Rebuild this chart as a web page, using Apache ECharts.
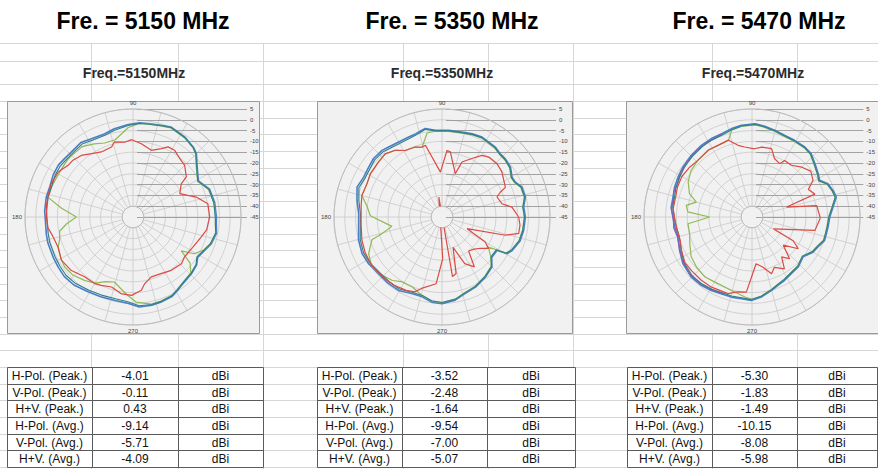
<!DOCTYPE html>
<html><head><meta charset="utf-8">
<script src="https://cdn.jsdelivr.net/npm/echarts@6/dist/echarts.min.js"></script>
<style>html,body{margin:0;padding:0;background:#fff;}#c{width:878px;height:469px;}</style>
</head><body><div id="c"></div>
<script>
// ---------- text / tick data ----------
const freqTitles = ['Fre. = 5150 MHz', 'Fre. = 5350 MHz', 'Fre. = 5470 MHz'];
const chartTitles = ['Freq.=5150MHz', 'Freq.=5350MHz', 'Freq.=5470MHz'];
const angleLabels = [90, 180, 270];
const radialMin = -45, radialMax = 5, radialStep = 5;
const rowLabels = ['H-Pol. (Peak.)', 'V-Pol. (Peak.)', 'H+V. (Peak.)', 'H-Pol. (Avg.)', 'V-Pol. (Avg.)', 'H+V. (Avg.)'];
const values5150 = ['-4.01', '-0.11', '0.43', '-9.14', '-5.71', '-4.09'];
const values5350 = ['-3.52', '-2.48', '-1.64', '-9.54', '-7.00', '-5.07'];
const values5470 = ['-5.30', '-1.83', '-1.49', '-10.15', '-8.08', '-5.98'];
const unitLabel = 'dBi';

// ---------- pattern data: [angle (deg), gain (dB)] ----------
const blue5150 = [[0,-6.4],[10,-6.6],[20,-7.3],[29,-10.4],[38,-7.3],[45,-3.5],[49,-2.3],[57,-0.9],[67,0.2],[73,-0.6],[81,-1.2],[86,-1.3],[93,-2.1],[102,-3.2],[109,-4.3],[118,-4.0],[125,-2.9],[132,-3.5],[140,-3.3],[145,-2.9],[152,-3.2],[160,-4.0],[167,-3.8],[176,-4.0],[182,-4.4],[191,-4.1],[197,-3.8],[207,-3.6],[214,-3.3],[221,-2.9],[229,-3.3],[239,-4.6],[248,-5.2],[258,-5.5],[267,-4.9],[274,-3.2],[282,-3.2],[288,-3.5],[296,-4.0],[301,-5.2],[308,-6.6],[316,-7.3],[323,-8.1],[328,-9.7],[335,-8.4],[341,-6.7],[349,-5.6],[355,-6.3],[360,-6.4]];
const teal5150 = [[0,-6.9],[10,-7.0],[20,-7.6],[29,-10.7],[38,-7.6],[45,-3.8],[49,-2.5],[57,-1.1],[67,0.0],[73,-0.8],[81,-1.4],[86,-1.6],[93,-2.6],[102,-3.9],[109,-5.0],[118,-4.8],[125,-3.8],[132,-4.3],[140,-4.2],[145,-3.9],[152,-4.1],[160,-4.8],[167,-4.6],[176,-4.9],[182,-5.2],[191,-5.0],[197,-4.7],[207,-4.5],[214,-4.2],[221,-3.9],[229,-4.3],[239,-5.4],[248,-6.0],[258,-6.3],[267,-5.6],[274,-3.8],[282,-3.6],[288,-3.8],[296,-4.3],[301,-5.5],[308,-6.9],[316,-7.6],[323,-8.5],[328,-10.1],[335,-8.8],[341,-7.1],[349,-6.0],[355,-6.7],[360,-6.9]];
const green5150 = [[0,-6.8],[10,-7.0],[20,-7.8],[29,-10.8],[38,-7.8],[45,-4.0],[49,-2.6],[57,-1.2],[67,-0.2],[73,-0.9],[81,-1.5],[86,-1.6],[93,-3.5],[103,-8.3],[111,-8.3],[118,-6.7],[126,-4.7],[138,-4.6],[148,-5.2],[160,-4.7],[167,-4.6],[173,-11.7],[180,-18.8],[186,-14.0],[191,-10.4],[197,-9.5],[202,-7.6],[210,-6.5],[216,-5.8],[224,-6.3],[233,-8.1],[240,-9.7],[247,-12.5],[254,-13.7],[260,-11.5],[266,-8.7],[272,-5.6],[282,-3.8],[288,-4.0],[296,-4.5],[301,-5.6],[308,-7.0],[316,-7.8],[321,-11.0],[325,-17.7],[329,-12.0],[335,-8.8],[341,-7.1],[349,-6.0],[355,-6.7],[360,-6.8]];
const red5150 = [[0,-9.5],[10,-9.8],[17.5,-14.3],[21.5,-17.7],[26.6,-20.8],[34.6,-17.8],[36.9,-14.1],[45,-11.2],[51,-10.4],[58,-8.6],[63.4,-8.7],[67.5,-10.7],[74.6,-13.0],[83.5,-10.9],[91,-9.2],[96,-10.1],[104,-9.2],[107,-11.1],[116,-11.5],[123,-10.0],[130,-7.8],[137,-6.7],[141.5,-6.6],[149,-4.6],[158,-4.1],[166,-4.4],[173,-4.6],[180,-4.9],[187,-5.3],[194,-6.9],[202,-7.6],[211,-6.3],[221,-7.2],[231,-9.4],[240,-9.4],[245,-10.1],[253,-11.1],[261,-9.1],[269,-8.7],[276.5,-10.9],[280,-13.7],[287,-16.0],[297,-15.7],[305.7,-14.6],[316,-13.8],[322,-14.8],[333,-14.0],[344,-12.0],[350,-10.4],[355,-10.1],[360,-9.5]];

const blue5350 = [[0,-6.4],[7,-6.9],[13.5,-5.3],[20.6,-5.5],[25.5,-7.4],[29.7,-7.7],[36,-5.8],[42.6,-5.2],[47.4,-5.2],[52.7,-4.3],[58,-4.1],[63.4,-3.6],[70,-4.0],[76.8,-4.6],[85.6,-4.7],[94.4,-4.7],[100.7,-3.3],[103,-3.8],[107.7,-4.6],[112.6,-4.9],[120,-4.9],[127,-4.3],[132,-3.5],[139.5,-3.3],[146,-4.0],[153,-4.3],[160.6,-3.3],[169,-4.9],[177.7,-6.4],[187,-6.1],[195.6,-4.9],[204.6,-4.3],[212.5,-4.7],[222,-5.6],[231,-5.5],[239.4,-5.5],[249,-6.9],[256,-6.9],[263,-5.3],[270,-4.9],[279,-6.0],[287,-8.0],[295.5,-9.0],[306,-10.7],[315,-12.3],[321,-15.4],[328.8,-15.2],[330.6,-10.4],[334.5,-9.0],[343,-7.2],[350.7,-6.7],[360,-6.4]];
const teal5350 = [[0,-6.8],[7,-7.3],[13.5,-5.7],[20.6,-5.9],[25.5,-7.7],[29.7,-8.0],[36,-6.1],[42.6,-5.5],[47.4,-5.5],[52.7,-4.6],[58,-4.4],[63.4,-3.9],[70,-4.3],[76.8,-4.9],[85.6,-5.0],[94.4,-5.0],[100.7,-3.7],[103,-4.3],[107.7,-5.2],[112.6,-5.6],[120,-5.7],[127,-5.1],[132,-4.3],[139.5,-4.1],[146,-4.8],[153,-5.1],[160.6,-4.2],[169,-5.8],[177.7,-7.2],[187,-6.9],[195.6,-5.7],[204.6,-5.1],[212.5,-5.5],[222,-6.4],[231,-6.3],[239.4,-6.3],[249,-7.6],[256,-7.5],[263,-5.9],[270,-5.4],[279,-6.4],[287,-8.4],[295.5,-9.3],[306,-11.0],[315,-12.6],[321,-15.8],[328.8,-15.6],[330.6,-10.8],[334.5,-9.4],[343,-7.6],[350.7,-7.1],[360,-6.8]];
const green5350 = [[0,-6.9],[7,-7.3],[13.5,-5.8],[20.6,-6.0],[25.5,-7.9],[29.7,-8.2],[36,-6.3],[42.6,-5.7],[47.4,-5.7],[52.7,-4.8],[58,-4.6],[63.4,-4.1],[70,-4.5],[76.8,-5.1],[85.6,-5.2],[94.4,-5.2],[100,-5.5],[106,-11.4],[111,-10.3],[119,-9.8],[125,-7.3],[132,-5.7],[139,-6.1],[149,-6.3],[156,-7.0],[165,-6.6],[172,-10.0],[179,-11.8],[190.6,-21.4],[195.5,-16.1],[198,-10.9],[206.6,-7.0],[215.5,-5.2],[224,-6.3],[232,-7.7],[238,-9.7],[247,-9.8],[255.7,-7.5],[263,-5.8],[270,-5.4],[279,-6.5],[287,-8.5],[295.5,-9.5],[306,-11.2],[315,-12.8],[321,-16.0],[327,-19.4],[330.6,-11.0],[334.5,-9.5],[343,-7.7],[350.7,-7.2],[360,-6.9]];
const red5350 = [[0,-9.5],[8,-12.3],[12.5,-16.6],[20,-17.9],[23,-15.7],[25,-12.6],[37,-10.3],[44,-9.5],[52,-9.8],[57,-11.0],[63,-14.6],[70,-17.9],[73,-24.0],[82.7,-14.6],[85.7,-14.1],[92,-24.2],[103,-10.9],[106,-11.4],[111,-10.3],[119,-9.8],[125,-7.3],[132,-5.7],[139,-6.1],[149,-6.3],[156,-7.0],[165,-6.6],[172,-7.2],[185,-7.4],[196,-6.4],[205,-5.8],[215,-5.4],[226,-6.0],[235,-6.4],[244,-7.2],[250,-8.1],[254,-10.6],[265,-14.0],[271,-25.7],[279,-54.3],[280,-17.0],[284,-18.0],[290,-30.0],[296,-21.0],[303,-17.5],[308,-25.0],[315,-24.0],[321,-22.0],[326,-19.0],[330,-22.0],[335,-32.2],[344,-14.4],[348,-8.7],[354,-8.7],[360,-9.5]];

const blue5470 = [[0,-9.0],[7,-7.2],[13.3,-4.9],[18,-5.5],[23.7,-6.6],[28.5,-9.4],[33,-8.4],[40,-6.9],[47,-4.9],[53,-4.4],[61,-4.4],[68,-4.3],[75,-3.5],[82,-2.6],[88,-1.8],[96.6,-2.3],[103,-3.0],[110,-4.0],[117.4,-4.1],[125,-4.4],[134.5,-4.9],[144,-5.5],[151.6,-6.1],[159,-6.6],[166,-7.3],[173,-7.3],[180,-8.4],[187,-8.9],[195,-9.5],[204.7,-8.1],[214,-6.4],[224.7,-5.5],[233.4,-5.6],[241,-6.1],[248,-6.7],[255.5,-6.7],[262.6,-6.9],[269.5,-6.4],[276.7,-7.7],[285,-9.8],[291,-11.2],[297,-12.0],[305,-13.1],[313,-13.5],[322,-15.0],[330,-12.4],[335.6,-11.5],[342,-9.7],[347,-9.7],[352.5,-9.5],[360,-9.0]];
const teal5470 = [[0,-9.4],[7,-7.6],[13.3,-5.4],[18,-5.9],[23.7,-7.0],[28.5,-9.8],[33,-8.8],[40,-7.3],[47,-5.2],[53,-4.7],[61,-4.7],[68,-4.6],[75,-3.8],[82,-2.9],[88,-2.1],[96.6,-2.6],[103,-3.5],[110,-4.6],[117.4,-4.8],[125,-5.1],[134.5,-5.6],[144,-6.2],[151.6,-6.8],[159,-7.3],[166,-8.0],[173,-8.0],[180,-9.1],[187,-9.6],[195,-10.2],[204.7,-8.8],[214,-7.1],[224.7,-6.2],[233.4,-6.3],[241,-6.8],[248,-7.3],[255.5,-7.2],[262.6,-7.3],[269.5,-6.8],[276.7,-8.1],[285,-10.2],[291,-11.6],[297,-12.4],[305,-13.5],[313,-13.9],[322,-15.4],[330,-12.8],[335.6,-11.9],[342,-10.1],[347,-10.1],[352.5,-9.9],[360,-9.4]];
const purple5470 = [[110,-4.3],[120,-4.6],[130,-5.0],[140,-5.6],[148,-6.0],[155,-7.2],[162,-6.9],[168,-7.8],[174,-7.4],[181,-8.6],[188,-8.4],[195,-9.3],[203,-8.5],[212,-7.0],[222,-5.9],[232,-6.0],[242,-6.6],[250,-7.0]];
const green5470 = [[0,-9.5],[7,-7.7],[13.3,-5.4],[18,-6.0],[23.7,-7.1],[28.5,-9.9],[33,-8.9],[40,-7.4],[47,-5.4],[53,-4.9],[61,-4.9],[68,-4.8],[75,-4.0],[82,-3.1],[88,-2.3],[96.6,-2.8],[103,-3.6],[107,-7.8],[115,-8.3],[123,-8.0],[134,-8.7],[142.4,-9.5],[151,-11.2],[159.5,-14.1],[165,-18.3],[170,-14.1],[175.5,-15.2],[180,-25.4],[186,-15.2],[195,-15.1],[203,-13.7],[213,-11.4],[222,-10.4],[232,-9.7],[243,-10.4],[254,-9.7],[265,-7.8],[270,-6.9],[276.7,-8.2],[285,-10.3],[291,-11.7],[297,-12.5],[305,-13.6],[313,-14.0],[322,-15.5],[330,-12.9],[335.6,-12.0],[342,-10.2],[347,-10.2],[352.5,-10.0],[360,-9.5]];
const red5470 = [[0,-13.5],[10,-14.6],[16,-28.3],[20,-14.0],[26,-16.0],[31,-12.0],[38,-10.5],[45,-12.4],[52.7,-14.9],[60,-14.8],[62.6,-17.2],[69,-16.0],[74,-12.1],[82,-12.3],[88,-13.4],[96,-12.4],[101,-11.2],[107,-7.8],[115,-8.3],[123,-8.0],[134,-8.7],[142,-8.0],[150,-7.5],[158,-7.8],[166,-8.5],[174,-8.3],[182,-9.2],[190,-9.8],[198,-10.0],[206,-8.8],[214,-7.5],[222,-7.6],[231,-7.5],[240,-7.5],[252.6,-7.8],[259,-9.7],[265.7,-10.1],[275,-23.3],[282,-21.3],[289,-17.2],[294,-19.5],[302,-16.7],[306.6,-22.0],[312,-19.0],[318,-25.5],[325.6,-19.0],[330,-23.0],[331,-33.7],[348,-15.2],[358.6,-13.5],[360,-13.5]];

// ---------- layout ----------
const CY = 217, R = 108, R0 = 10.8;
const panels = [
  {cx:133, box:[7,101,252,232], tx:143, sx:134, cols:[7,92,178,263], vals:values5150,
   series:[['blue',blue5150],['green',green5150],['teal',teal5150],['red',red5150]]},
  {cx:442, box:[317,101,255,232], tx:452, sx:442, cols:[317,402,487,575], vals:values5350,
   series:[['blue',blue5350],['green',green5350],['teal',teal5350],['red',red5350]]},
  {cx:752, box:[626,101,252,232], tx:759, sx:753, cols:[627,712,797,877], vals:values5470,
   series:[['blue',blue5470],['purple',purple5470],['green',green5470],['teal',teal5470],['red',red5470]]}
];
const colors = {blue:'#4a7fc6', teal:'#2f7f8a', green:'#8fba55', red:'#dc4a44', purple:'#8a60b2'};
const widths = {blue:1.6, teal:1.1, green:1.2, red:1.2, purple:1.2};
const sheetRows = [43,61,84,101,118,134,151,168,184,201,217,234,250,267,284,300,317,334,350,367,384,400,417,434,450,467];
const sheetCols = [91,178,263,403,488,573,712,797];
const ROW0 = 367, ROWH = 16.67;

const graphics = [];
sheetRows.forEach(y => graphics.push({type:'line', z:-20, silent:true, shape:{x1:0,y1:y+0.5,x2:878,y2:y+0.5}, style:{stroke:'#d6d6d6', lineWidth:1}}));
sheetCols.forEach(x => graphics.push({type:'line', z:-20, silent:true, shape:{x1:x+0.5,y1:43,x2:x+0.5,y2:469}, style:{stroke:'#d6d6d6', lineWidth:1}}));

const polar = [], angleAxis = [], radiusAxis = [], grid = [], xAxis = [], yAxis = [], series = [];
panels.forEach((p, i) => {
  const [bx, by, bw, bh] = p.box;
  graphics.push({type:'rect', z:-10, silent:true, shape:{x:bx+0.5, y:by+0.5, width:bw, height:bh}, style:{fill:'#f1f1f1', stroke:'#9a9a9a', lineWidth:1}});
  graphics.push({type:'text', z:5, silent:true, style:{x:p.tx, y:21, text:freqTitles[i], textAlign:'center', textVerticalAlign:'middle', font:'bold 23px "Liberation Sans", Arial, sans-serif', fill:'#000'}});
  graphics.push({type:'text', z:5, silent:true, style:{x:p.sx, y:73, text:chartTitles[i], textAlign:'center', textVerticalAlign:'middle', font:'bold 14px "Liberation Sans", Arial, sans-serif', fill:'#2b2b2b'}});
  // table
  const c = p.cols;
  for (let r = 0; r < rowLabels.length; r++) {
    const y = ROW0 + r * ROWH + ROWH / 2;
    const texts = [rowLabels[r], p.vals[r], unitLabel];
    for (let k = 0; k < 3; k++) {
      graphics.push({type:'text', z:12, silent:true, style:{x:(c[k]+c[k+1])/2, y:y+0.5, text:texts[k], textAlign:'center', textVerticalAlign:'middle', font:'12px "Liberation Sans", Arial, sans-serif', fill:'#111'}});
    }
  }
  graphics.push({type:'rect', z:11, silent:true, shape:{x:c[0]+0.5, y:ROW0+0.5, width:c[3]-c[0], height:ROWH*6}, style:{fill:'#fff', stroke:'#5a5a5a', lineWidth:1}});
  for (let r = 1; r < 6; r++) {
    const y = Math.round(ROW0 + r * ROWH) + 0.5;
    graphics.push({type:'line', z:11, silent:true, shape:{x1:c[0], y1:y, x2:c[3], y2:y}, style:{stroke:'#5a5a5a', lineWidth:1}});
  }
  [c[1], c[2]].forEach(x => graphics.push({type:'line', z:11, silent:true, shape:{x1:x+0.5, y1:ROW0, x2:x+0.5, y2:ROW0+ROWH*6}, style:{stroke:'#5a5a5a', lineWidth:1}}));

  polar.push({center:[p.cx, CY], radius:[R0, R]});
  angleAxis.push({polarIndex:i, type:'value', min:0, max:360, interval:15, startAngle:0, clockwise:false,
    axisLine:{lineStyle:{color:'#bdbdbd', width:1}}, axisTick:{show:false},
    axisLabel:{fontSize:6, color:'#444', margin:3, formatter: v => angleLabels.includes(v) ? String(v) : ''},
    splitLine:{lineStyle:{color:'#c9c9c9', width:0.8}}});
  radiusAxis.push({polarIndex:i, type:'value', min:radialMin + radialStep, max:radialMax, interval:radialStep,
    axisLine:{show:false}, axisTick:{show:false}, axisLabel:{show:false},
    splitLine:{lineStyle:{color:'#c9c9c9', width:0.8}}});
  grid.push({left:p.cx+4, top:CY-R, width:R+2, height:R, show:false});
  xAxis.push({gridIndex:i, type:'value', min:0, max:1, show:false});
  yAxis.push({gridIndex:i, type:'value', position:'right', min:radialMin, max:radialMax, interval:radialStep,
    axisLine:{show:false}, axisTick:{show:false},
    axisLabel:{fontSize:6, color:'#444', margin:3},
    splitLine:{show:true, lineStyle:{color:'#8f8f8f', width:0.8}}});
  p.series.forEach(([name, arr]) => {
    series.push({type:'line', coordinateSystem:'polar', polarIndex:i, name:name, clip:false, symbol:'none', silent:true,
      animation:false, data: arr.map(d => [d[1], d[0]]),
      lineStyle:{color:colors[name], width:widths[name]}});
  });
});

const chart = echarts.init(document.getElementById('c'), null, {renderer:'svg'});
chart.setOption({
  backgroundColor:'#ffffff', animation:false,
  graphic:{elements:graphics},
  polar, angleAxis, radiusAxis, grid, xAxis, yAxis, series
});
</script></body></html>
